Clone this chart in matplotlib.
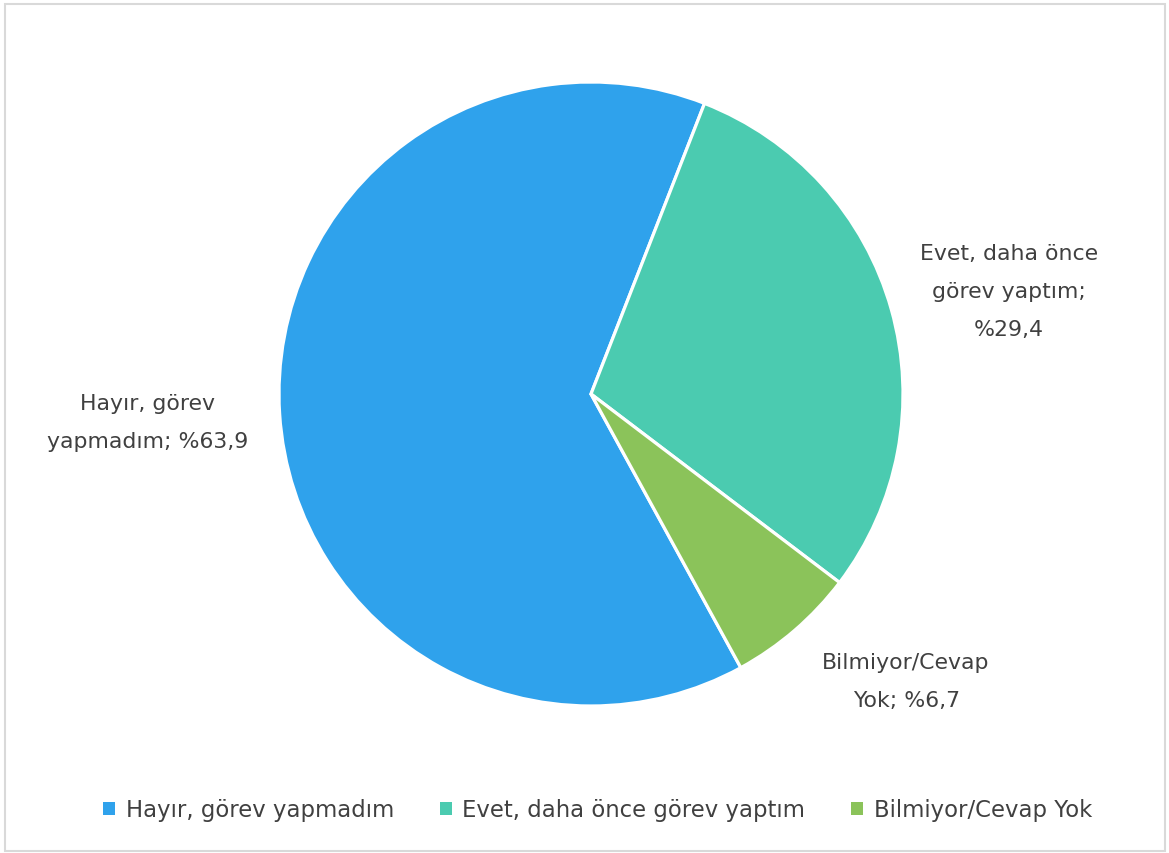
import matplotlib.pyplot as plt
from matplotlib.patches import Rectangle

# survey answers and their shares (%)
categories = ["Hayır, görev yapmadım", "Evet, daha önce görev yaptım", "Bilmiyor/Cevap Yok"]
shares = [63.9, 29.4, 6.7]
value_labels = ["Hayır, görev\nyapmadım; %63,9", "Evet, daha önce\ngörev yaptım;\n%29,4", "Bilmiyor/Cevap\nYok; %6,7"]
colors = ["#2FA2EC", "#4BCBB0", "#8BC35A"]

# label anchor points (data units, pie radius = 1)
label_pos = [(-1.42, -0.09), (1.34, 0.33), (1.01, -0.92)]

text_color = "#404040"

W, H = 1169, 854
fig = plt.figure(figsize=(W / 100, H / 100), dpi=100)

# pie centre (591, 395) px, radius 312 px
cx, cy, r = 591, 395, 312
ax = fig.add_axes([(cx - r) / W, (H - cy - r) / H, 2 * r / W, 2 * r / H])

wedges, _ = ax.pie(
    shares,
    colors=colors,
    startangle=-61.3,
    counterclock=False,
    radius=1,
    wedgeprops=dict(edgecolor="white", linewidth=2.3),
)
ax.set_xlim(-1, 1)
ax.set_ylim(-1, 1)
ax.set_aspect("equal")
ax.axis("off")

for txt, (x, y) in zip(value_labels, label_pos):
    ax.text(x, y, txt, ha="center", va="center", fontsize=15.8, color=text_color,
            linespacing=2.1, clip_on=False)

leg = fig.legend(
    wedges,
    categories,
    loc="center",
    bbox_to_anchor=(0.511, 43 / H),
    ncol=3,
    frameon=False,
    fontsize=16.4,
    handlelength=0.55,
    handleheight=0.55,
    handletextpad=0.45,
    columnspacing=2.0,
)
for t in leg.get_texts():
    t.set_color(text_color)
for h in leg.legend_handles:
    h.set_edgecolor("none")

# light grey chart border
fig.patches.append(
    Rectangle((4.5 / W, 2.5 / H), (W - 9) / W, (H - 7) / H, transform=fig.transFigure,
              fill=False, edgecolor="#D9D9D9", linewidth=1.5)
)

fig.savefig("out.png", dpi=100)
